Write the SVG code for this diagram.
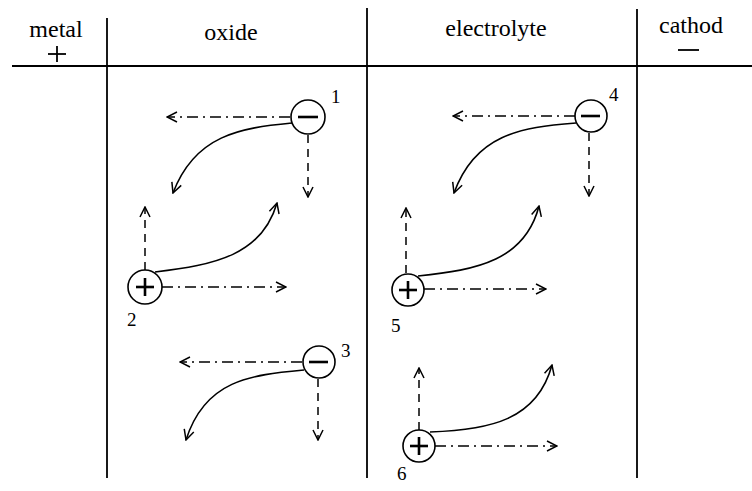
<svg xmlns="http://www.w3.org/2000/svg" width="752" height="491" viewBox="0 0 752 491">
<style>
.t{font-family:"Liberation Serif","Times New Roman",serif;font-size:24px;fill:#000}
.n{font-family:"Liberation Serif","Times New Roman",serif;font-size:19px;fill:#000}
.ln{stroke:#000;stroke-width:1.8;fill:none}
.c{stroke:#000;stroke-width:1.6;fill:#fff}
.s{stroke:#000;stroke-width:2.6;fill:none}
.dash{stroke:#000;stroke-width:1.5;fill:none;stroke-dasharray:8,6;marker-end:url(#ah)}
.dd{stroke:#000;stroke-width:1.5;fill:none;stroke-dasharray:11,5,2,5;marker-end:url(#ah)}
.cv{stroke:#000;stroke-width:1.6;fill:none;marker-end:url(#ah)}
</style>
<defs>
<marker id="ah" viewBox="0 0 12 12" refX="11" refY="6" markerWidth="12" markerHeight="12" markerUnits="userSpaceOnUse" orient="auto">
<path d="M1,1 L11,6 L1,11" fill="none" stroke="#000" stroke-width="1.5"/>
</marker>
</defs>
<rect width="752" height="491" fill="#fff"/>
<g id="table">
<line class="ln" x1="12" y1="66" x2="752" y2="66"/>
<line class="ln" x1="107" y1="18" x2="107" y2="478"/>
<line class="ln" x1="367" y1="8" x2="367" y2="478"/>
<line class="ln" x1="637" y1="9" x2="637" y2="478"/>
<text class="t" x="56" y="37" text-anchor="middle">metal</text>
<line class="ln" x1="48" y1="54" x2="66" y2="54"/>
<line class="ln" x1="57" y1="46" x2="57" y2="62"/>
<text class="t" x="231" y="40" text-anchor="middle">oxide</text>
<text class="t" x="496" y="36" text-anchor="middle">electrolyte</text>
<text class="t" x="691" y="33" text-anchor="middle">cathod</text>
<line class="ln" x1="678" y1="50" x2="699" y2="50"/>
</g>
<g id="connectors">
<path class="dd" d="M290,117 L167,117"/>
<path class="cv" d="M292,123 C240,128 195,135 173,193"/>
<path class="dash" d="M308,135 L308,197"/>
<path class="dash" d="M145,270 L145,207"/>
<path class="cv" d="M155,272 C215,265 262,255 277,203"/>
<path class="dd" d="M162,287 L286,287"/>
<path class="dd" d="M302,362 L180,362"/>
<path class="cv" d="M304,370 C250,375 205,380 186,440"/>
<path class="dash" d="M318,379 L318,440"/>
<path class="dd" d="M575,116 L453,116"/>
<path class="cv" d="M576,123 C520,127 475,135 454,193"/>
<path class="dash" d="M589,133 L589,196"/>
<path class="dash" d="M406,273 L406,208"/>
<path class="cv" d="M418,276 C478,270 525,260 539,206"/>
<path class="dd" d="M424,289 L546,289"/>
<path class="dash" d="M419,430 L419,368"/>
<path class="cv" d="M430,432 C490,430 537,420 552,365"/>
<path class="dd" d="M435,446 L557,446"/>
</g>
<g id="ion1">
<circle class="c" cx="308" cy="117" r="17"/>
<line class="s" x1="298" y1="117" x2="318" y2="117"/>
<text class="n" x="331" y="103">1</text>
</g>
<g id="ion2">
<circle class="c" cx="145" cy="287" r="17"/>
<line class="s" x1="136" y1="287" x2="154" y2="287"/>
<line class="s" x1="145" y1="278" x2="145" y2="296"/>
<text class="n" x="127" y="326">2</text>
</g>
<g id="ion3">
<circle class="c" cx="319" cy="362" r="16"/>
<line class="s" x1="309" y1="362" x2="328" y2="362"/>
<text class="n" x="341" y="357">3</text>
</g>
<g id="ion4">
<circle class="c" cx="591" cy="116" r="16"/>
<line class="s" x1="581" y1="116" x2="600" y2="116"/>
<text class="n" x="609" y="101">4</text>
</g>
<g id="ion5">
<circle class="c" cx="408" cy="290" r="16"/>
<line class="s" x1="399" y1="290" x2="417" y2="290"/>
<line class="s" x1="408" y1="281" x2="408" y2="299"/>
<text class="n" x="391" y="332">5</text>
</g>
<g id="ion6">
<circle class="c" cx="419" cy="446" r="16"/>
<line class="s" x1="410" y1="446" x2="428" y2="446"/>
<line class="s" x1="419" y1="437" x2="419" y2="455"/>
<text class="n" x="397" y="480">6</text>
</g>
</svg>
